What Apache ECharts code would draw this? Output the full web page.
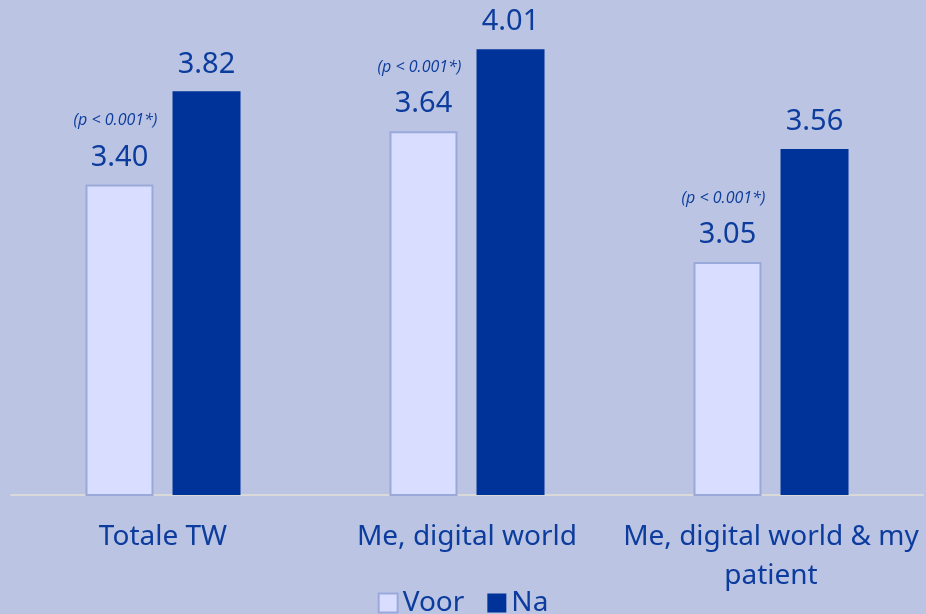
<!DOCTYPE html>
<html>
<head>
<meta charset="utf-8">
<script src="https://cdn.jsdelivr.net/npm/echarts@6/dist/echarts.min.js"></script>
<style>
html, body { margin: 0; padding: 0; background: #bbc4e2; }
#main { width: 926px; height: 614px; }
</style>
</head>
<body>
<div id="main"></div>
<script>
// categorieën en waarden
var categories = ["Totale TW", "Me, digital world", "Me, digital world & my\npatient"];
var voor = [3.40, 3.64, 3.05];
var na = [3.82, 4.01, 3.56];
var pNotes = ["(p < 0.001*)", "(p < 0.001*)", "(p < 0.001*)"];

var txtBlue = "#0c3c9d";

var myChart = echarts.init(document.getElementById('main'));
var option = {
    animation: false,
    backgroundColor: "#bbc4e2",
    grid: { left: 11, right: 3, top: 7, bottom: 119 },
    legend: {
        top: 584,
        left: 'center',
        itemWidth: 19,
        itemHeight: 19,
        itemGap: 23,
        icon: 'rect',
        textStyle: { fontFamily: 'Noto Sans', fontSize: 28, color: txtBlue },
        data: ["Voor", "Na"]
    },
    xAxis: {
        type: 'category',
        data: categories,
        axisTick: { show: false },
        axisLine: { lineStyle: { color: '#d9d9d9', width: 2 } },
        axisLabel: {
            margin: 23,
            fontFamily: 'Noto Sans',
            fontSize: 28,
            lineHeight: 39,
            color: txtBlue,
            interval: 0
        }
    },
    yAxis: {
        type: 'value',
        min: 2,
        max: 4.2,
        show: false,
        splitLine: { show: false }
    },
    series: [
        {
            name: "Voor",
            type: 'bar',
            data: voor,
            barWidth: 68,
            barGap: '28%',
            itemStyle: { color: '#d9ddff', borderColor: '#9aa9da', borderWidth: 2 },
            label: {
                show: true,
                position: 'top',
                distance: 5,
                formatter: function (p) {
                    return '{p|' + pNotes[p.dataIndex] + '}\n{v|' + p.value.toFixed(2) + '}';
                },
                rich: {
                    p: { fontFamily: 'Open Sans', fontStyle: 'italic', fontSize: 16, lineHeight: 30, color: txtBlue, padding: [0, 8, 0, 0] },
                    v: { fontFamily: 'Noto Sans', fontSize: 29, lineHeight: 44, color: txtBlue }
                }
            }
        },
        {
            name: "Na",
            type: 'bar',
            data: na,
            barWidth: 68,
            itemStyle: { color: '#003399' },
            label: {
                show: true,
                position: 'top',
                distance: 5,
                formatter: function (p) { return p.value.toFixed(2); },
                fontFamily: 'Noto Sans',
                fontSize: 29,
                lineHeight: 44,
                color: txtBlue
            }
        }
    ]
};
myChart.setOption(option);
</script>
</body>
</html>
